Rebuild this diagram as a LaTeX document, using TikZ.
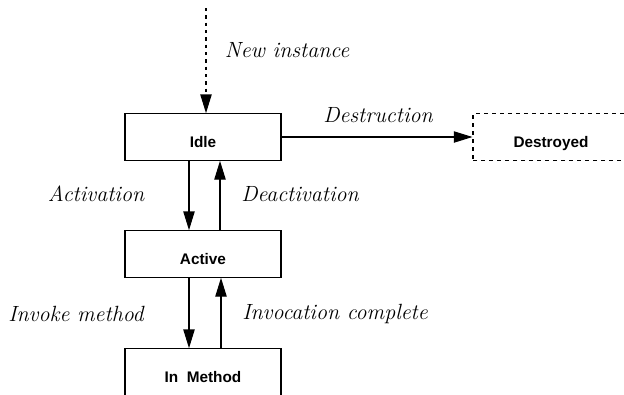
\documentclass[tikz,border=0pt]{standalone}
\usepackage{fontspec}
\usepackage{tikz}
\usetikzlibrary{arrows.meta,calc}
\newfontfamily\boxfont{Liberation Sans}

\begin{document}
\begin{tikzpicture}[x=0.75pt,y=-0.75pt,>={Triangle[length=14pt,width=8.5pt]},
  state/.style={draw,line width=0.8pt,minimum width=117pt,minimum height=35pt,inner sep=0pt,text height=15pt,text depth=0pt,font=\fontsize{11.5}{13}\selectfont\boxfont\bfseries},
  trans/.style={->,line width=0.8pt},
  lbl/.style={font=\fontsize{16.5}{18}\selectfont\itshape}]
\clip (0,0) rectangle (624,394);
% states
\node[state] (idle) at (203,137) {Idle};
\node[state] (active) at (203,254) {Active};
\node[state] (inmethod) at (203,372) {In\ \ Method};
\node[state,dash pattern=on 3pt off 3pt] (destroyed) at (551,137) {Destroyed};
% transitions
\coordinate (src) at (206,8);
\draw[trans,dash pattern=on 2.5pt off 3pt] (src) -- (src |- idle.north);
\draw[trans] (idle.east) -- (destroyed.west);
\draw[trans] ($(idle.south)+(-14,0)$) -- ($(active.north)+(-14,0)$);
\draw[trans] ($(active.north)+(17,0)$) -- ($(idle.south)+(17,0)$);
\draw[trans] ($(active.south)+(-14,0)$) -- ($(inmethod.north)+(-14,0)$);
\draw[trans] ($(inmethod.north)+(18,0)$) -- ($(active.south)+(18,0)$);
% labels
\node[lbl] (lnew) at (287,50) {New instance};
\node[lbl] (ldestr) at (378,115) {Destruction};
\node[lbl] (lact) at (96,194) {Activation};
\node[lbl] (ldeact) at (300,194) {Deactivation};
\node[lbl] (linvoke) at (76,314) {Invoke method};
\node[lbl] (lcomplete) at (335,314) {Invocation complete};
\end{tikzpicture}
\end{document}
